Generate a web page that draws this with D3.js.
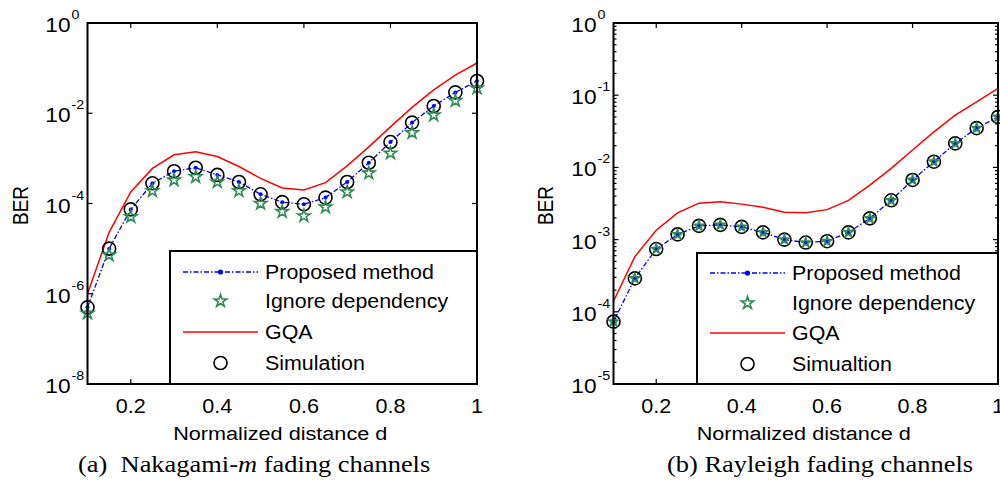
<!DOCTYPE html>
<html>
<head>
<meta charset="utf-8">
<script src="https://cdn.jsdelivr.net/npm/d3@7"></script>
<style>
  body { margin: 0; background: #fff; }
  svg { display: block; }
  text { font-family: "Liberation Sans", Arial, sans-serif; fill: #000; }
  .cap { font-family: "Liberation Serif", "Times New Roman", serif; }
</style>
</head>
<body>
<svg id="chart" width="1000" height="485"></svg>
<script>
// normalized distance d, shared by both panels
var dist = [0.1, 0.15, 0.2, 0.25, 0.3, 0.35, 0.4, 0.45, 0.5, 0.55, 0.6, 0.65, 0.7, 0.75, 0.8, 0.85, 0.9, 0.95, 1.0];

// (a) Nakagami-m
var nakaProposed = [5e-7, 1e-5, 7.4e-5, 2.8e-4, 5.2e-4, 6.2e-4, 4.3e-4, 3.0e-4, 1.6e-4, 1.07e-4, 9.6e-5, 1.35e-4, 3.0e-4, 8e-4, 2.3e-3, 6.2e-3, 1.45e-2, 2.9e-2, 5.2e-2];
var nakaIgnore = [3.7e-7, 7.2e-6, 5.1e-5, 1.9e-4, 3.3e-4, 3.9e-4, 3.0e-4, 1.9e-4, 1.0e-4, 6.6e-5, 5.3e-5, 8.3e-5, 1.8e-4, 4.7e-4, 1.3e-3, 3.7e-3, 9.1e-3, 1.9e-2, 3.6e-2];
var nakaGQA = [1.0e-6, 2.3e-5, 1.8e-4, 6e-4, 1.2e-3, 1.4e-3, 1.1e-3, 6.6e-4, 3.6e-4, 2.2e-4, 2.0e-4, 2.9e-4, 6.8e-4, 1.8e-3, 5e-3, 1.35e-2, 3.3e-2, 7e-2, 1.3e-1];
var nakaSim = [5e-7, 1e-5, 7.4e-5, 2.8e-4, 5.2e-4, 6.2e-4, 4.3e-4, 3.0e-4, 1.6e-4, 1.07e-4, 9.6e-5, 1.35e-4, 3.0e-4, 8e-4, 2.3e-3, 6.2e-3, 1.45e-2, 2.9e-2, 5.2e-2];

// (b) Rayleigh
var rayProposed = [7.3e-5, 2.9e-4, 7.4e-4, 1.18e-3, 1.55e-3, 1.6e-3, 1.5e-3, 1.26e-3, 1.0e-3, 9.1e-4, 9.5e-4, 1.26e-3, 1.97e-3, 3.5e-3, 6.7e-3, 1.2e-2, 2.15e-2, 3.5e-2, 5.0e-2];
var rayIgnore = [7.3e-5, 2.9e-4, 7.4e-4, 1.18e-3, 1.55e-3, 1.6e-3, 1.5e-3, 1.26e-3, 1.0e-3, 9.1e-4, 9.5e-4, 1.26e-3, 1.97e-3, 3.5e-3, 6.7e-3, 1.2e-2, 2.15e-2, 3.5e-2, 5.0e-2];
var rayGQA = [1.4e-4, 5.8e-4, 1.35e-3, 2.35e-3, 3.2e-3, 3.35e-3, 3.1e-3, 2.8e-3, 2.4e-3, 2.35e-3, 2.6e-3, 3.5e-3, 5.7e-3, 9.7e-3, 1.74e-2, 3.1e-2, 5.3e-2, 8.1e-2, 1.24e-1];
var raySim = [7.3e-5, 2.9e-4, 7.4e-4, 1.18e-3, 1.55e-3, 1.6e-3, 1.5e-3, 1.26e-3, 1.0e-3, 9.1e-4, 9.5e-4, 1.26e-3, 1.97e-3, 3.5e-3, 6.7e-3, 1.2e-2, 2.15e-2, 3.5e-2, 5.0e-2];

// ticks and labels
var xTicks = [0.2, 0.4, 0.6, 0.8, 1];
var nakaExp = [0, -2, -4, -6, -8];
var rayExp = [0, -1, -2, -3, -4, -5];
var nakaLegend = ["Proposed method", "Ignore dependency", "GQA", "Simulation"];
var rayLegend = ["Proposed method", "Ignore dependency", "GQA", "Simualtion"];

var svg = d3.select('#chart');
var BLUE = '#0000ff', RED = '#ff0000', GREEN = '#2e8b57';

// text is a bit wider than the font in the picture, so stretch it sideways
function label(g, x, y, s, size, anchor, sx) {
    return g.append('text')
        .attr('transform', 'translate(' + x + ',' + y + ') scale(' + (sx || 1.12) + ',1)')
        .attr('font-size', size)
        .attr('text-anchor', anchor || 'start')
        .text(s);
}

function star(r) {
    // symbolStar outer radius = sqrt(size * 0.8908)
    return d3.symbol().type(d3.symbolStar).size(r * r / 0.8908130915292852)();
}

function panel(p) {
    var g = svg.append('g');
    var x = d3.scaleLinear().domain([0.1, 1]).range([p.left, p.right]);
    var y = d3.scaleLog().domain([p.yMin, 1]).range([p.bottom, p.top]);

    // major / minor y ticks
    var majors = p.exps.map(function (e) { return Math.pow(10, e); });
    var minors = [];
    if (p.minor) {
        p.exps.forEach(function (e) {
            if (Math.pow(10, e) >= 1) return;
            for (var k = 2; k <= 9; k++) minors.push(k * Math.pow(10, e));
        });
    }

    var axisCol = g.append('g').attr('stroke', '#000').attr('stroke-width', 1.2);
    majors.forEach(function (v) {
        axisCol.append('line').attr('x1', p.left).attr('x2', p.left + 5).attr('y1', y(v)).attr('y2', y(v));
        axisCol.append('line').attr('x1', p.right).attr('x2', p.right - 5).attr('y1', y(v)).attr('y2', y(v));
    });
    minors.forEach(function (v) {
        axisCol.append('line').attr('x1', p.left).attr('x2', p.left + 3).attr('y1', y(v)).attr('y2', y(v));
        axisCol.append('line').attr('x1', p.right).attr('x2', p.right - 3).attr('y1', y(v)).attr('y2', y(v));
    });
    xTicks.forEach(function (t) {
        axisCol.append('line').attr('x1', x(t)).attr('x2', x(t)).attr('y1', p.bottom).attr('y2', p.bottom - 5);
        axisCol.append('line').attr('x1', x(t)).attr('x2', x(t)).attr('y1', p.top).attr('y2', p.top + 5);
    });

    // curves
    var line = d3.line().x(function (d) { return x(d[0]); }).y(function (d) { return y(d[1]); });
    function pairs(arr) { return dist.map(function (d, i) { return [d, arr[i]]; }); }

    g.append('path').attr('d', line(pairs(p.gqa)))
        .attr('fill', 'none').attr('stroke', RED).attr('stroke-width', 1.5);
    g.append('path').attr('d', line(pairs(p.proposed)))
        .attr('fill', 'none').attr('stroke', BLUE).attr('stroke-width', 1.3)
        .attr('stroke-dasharray', '5,2,1.5,2');
    g.selectAll(null).data(pairs(p.proposed)).enter().append('circle')
        .attr('cx', function (d) { return x(d[0]); }).attr('cy', function (d) { return y(d[1]); })
        .attr('r', 2).attr('fill', BLUE);
    g.selectAll(null).data(pairs(p.sim)).enter().append('circle')
        .attr('cx', function (d) { return x(d[0]); }).attr('cy', function (d) { return y(d[1]); })
        .attr('r', 6.5).attr('fill', 'none').attr('stroke', '#000').attr('stroke-width', 1.6);
    g.selectAll(null).data(pairs(p.ignore)).enter().append('path')
        .attr('d', star(p.starR))
        .attr('transform', function (d) { return 'translate(' + x(d[0]) + ',' + y(d[1]) + ')'; })
        .attr('fill', 'none').attr('stroke', GREEN).attr('stroke-width', 1.6);

    // frame
    g.append('rect').attr('x', p.left).attr('y', p.top)
        .attr('width', p.right - p.left).attr('height', p.bottom - p.top)
        .attr('fill', 'none').attr('stroke', '#000').attr('stroke-width', 2);

    // tick labels
    majors.forEach(function (v, i) {
        label(g, p.left - 17, y(v) + 9, '10', 21, 'end', 1.08);
        label(g, p.left - 16, y(v) - 4, String(p.exps[i]), 13, 'start', 1.1);
    });
    xTicks.forEach(function (t) {
        label(g, x(t), 413, String(t), 20, 'middle', 1.08);
    });

    // axis titles
    label(g, (p.left + p.right) / 2 - 2, 439.5, 'Normalized distance d', 19, 'middle', 1.14);
    g.append('text')
        .attr('transform', 'translate(' + p.berX + ',' + ((p.top + p.bottom) / 2 + 2) + ') rotate(-90) scale(1,1.12)')
        .attr('font-size', 19).attr('text-anchor', 'middle').text('BER');

    // legend
    var lg = g.append('g');
    lg.append('rect').attr('x', p.legX).attr('y', p.legTop)
        .attr('width', p.right - p.legX).attr('height', p.bottom - p.legTop)
        .attr('fill', '#fff').attr('stroke', '#000').attr('stroke-width', 2);
    var l0 = p.legX + 13, l1 = p.legX + 88, lm = (l0 + l1) / 2;
    var rows = p.legRows;
    lg.append('line').attr('x1', l0).attr('x2', l1).attr('y1', rows[0]).attr('y2', rows[0])
        .attr('stroke', BLUE).attr('stroke-width', 1.3).attr('stroke-dasharray', '5,2,1.5,2');
    lg.append('circle').attr('cx', lm).attr('cy', rows[0]).attr('r', 2.6).attr('fill', BLUE);
    lg.append('path').attr('d', star(6.5)).attr('transform', 'translate(' + lm + ',' + rows[1] + ')')
        .attr('fill', 'none').attr('stroke', GREEN).attr('stroke-width', 1.6);
    lg.append('line').attr('x1', l0).attr('x2', l1).attr('y1', rows[2]).attr('y2', rows[2])
        .attr('stroke', RED).attr('stroke-width', 1.5);
    lg.append('circle').attr('cx', lm).attr('cy', rows[3]).attr('r', 6.5)
        .attr('fill', 'none').attr('stroke', '#000').attr('stroke-width', 1.6);
    p.legend.forEach(function (s, i) {
        label(lg, l1 + 7, rows[i] + 7, s, 20, 'start', 1.07);
    });
}

panel({
    left: 87.5, right: 477, top: 23, bottom: 384, yMin: 1e-8, exps: nakaExp, minor: false,
    proposed: nakaProposed, ignore: nakaIgnore, gqa: nakaGQA, sim: nakaSim, starR: 6.5,
    berX: 28, legX: 170, legTop: 251, legRows: [272, 301, 332, 363], legend: nakaLegend
});

panel({
    left: 613.5, right: 998, top: 23, bottom: 384, yMin: 1e-5, exps: rayExp, minor: true,
    proposed: rayProposed, ignore: rayIgnore, gqa: rayGQA, sim: raySim, starR: 5,
    berX: 553, legX: 697, legTop: 253, legRows: [273, 303, 333, 364], legend: rayLegend
});

// captions
var cap = svg.append('g');
var ca = cap.append('text').attr('class', 'cap').attr('font-size', 23)
    .attr('transform', 'translate(78,472) scale(1.15,1)').style('white-space', 'pre');
ca.append('tspan').text('(a)  Nakagami-');
ca.append('tspan').attr('font-style', 'italic').text('m');
ca.append('tspan').text(' fading channels');
cap.append('text').attr('class', 'cap').attr('font-size', 23)
    .attr('transform', 'translate(667,472) scale(1.15,1)')
    .text('(b) Rayleigh fading channels');
</script>
</body>
</html>
